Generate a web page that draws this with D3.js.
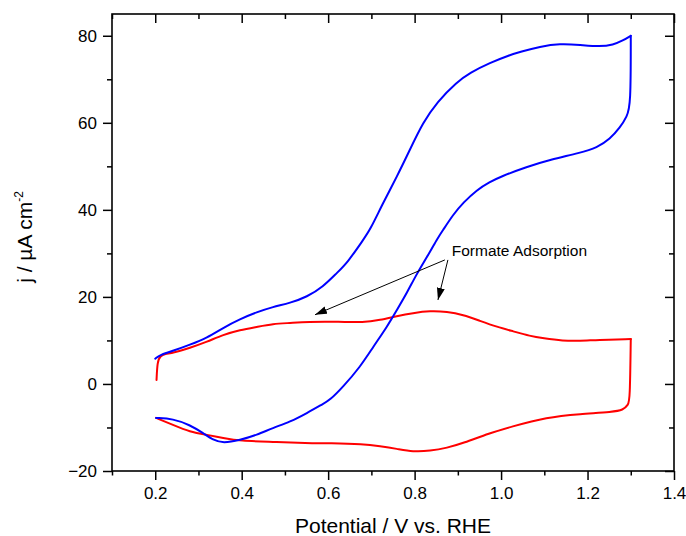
<!DOCTYPE html>
<html>
<head>
<meta charset="utf-8">
<script src="https://cdn.jsdelivr.net/npm/d3@7.9.0/dist/d3.min.js"></script>
<style>
  html, body { margin: 0; padding: 0; background: #fff; }
  svg { display: block; font-family: "Liberation Sans", Arial, sans-serif; }
</style>
</head>
<body>
<svg id="chart" width="686" height="536"></svg>
<script>
/* ---------- data (E / V vs RHE, j / uA cm-2) --------- */
const blueCV = [
  [0.200, 5.8], [0.211, 6.7], [0.241, 7.6], [0.280, 9.0], [0.320, 10.6], [0.357, 12.9],
  [0.396, 14.9], [0.435, 16.5], [0.472, 17.7], [0.512, 18.6], [0.551, 20.0], [0.588, 22.3],
  [0.620, 25.5], [0.644, 27.8], [0.681, 33.1], [0.697, 35.4], [0.727, 41.6], [0.759, 47.6],
  [0.789, 53.8], [0.819, 60.0], [0.852, 64.8], [0.898, 69.4], [0.928, 71.5], [0.974, 73.8],
  [1.021, 75.6], [1.044, 76.3], [1.090, 77.5], [1.136, 78.2], [1.183, 77.9], [1.229, 77.5],
  [1.259, 77.9], [1.282, 78.9], [1.300, 80.0],
  [1.300, 64.0], [1.291, 61.4], [1.275, 58.9], [1.252, 56.3], [1.222, 54.3], [1.183, 53.1],
  [1.113, 51.5], [1.060, 49.9], [0.998, 47.6], [0.974, 46.4], [0.944, 44.6], [0.912, 41.6],
  [0.889, 38.9], [0.866, 35.4], [0.852, 33.3], [0.829, 29.2], [0.806, 25.5], [0.782, 20.9],
  [0.759, 17.0], [0.736, 13.1], [0.704, 8.5], [0.674, 3.9], [0.634, -0.7], [0.604, -3.7],
  [0.588, -4.6], [0.551, -6.7], [0.512, -8.7], [0.472, -10.1], [0.435, -11.7], [0.396, -12.9],
  [0.357, -13.6], [0.334, -12.9], [0.311, -11.3], [0.280, -9.4], [0.241, -8.0], [0.202, -7.8]
];

const redCV = [
  [0.203, 0.9], [0.205, 5.1], [0.211, 6.4], [0.223, 6.9], [0.241, 7.1], [0.280, 8.3],
  [0.320, 9.7], [0.357, 11.3], [0.396, 12.4], [0.435, 13.1], [0.472, 13.8], [0.512, 14.0],
  [0.551, 14.3], [0.627, 14.3], [0.681, 14.1], [0.720, 14.7], [0.759, 15.6], [0.796, 16.3],
  [0.836, 16.8], [0.875, 16.6], [0.912, 15.9], [0.951, 14.5], [0.991, 13.1], [1.028, 12.1],
  [1.067, 11.0], [1.097, 10.5], [1.143, 9.9], [1.183, 9.9], [1.222, 10.1], [1.300, 10.3],
  [1.298, -3.7], [1.294, -4.8], [1.282, -6.0], [1.259, -6.4], [1.183, -6.9], [1.106, -7.6],
  [1.021, -9.9], [0.974, -11.3], [0.912, -13.6], [0.875, -14.7], [0.836, -15.4], [0.796, -15.6],
  [0.759, -14.9], [0.720, -14.3], [0.681, -13.8], [0.604, -13.6], [0.551, -13.6], [0.472, -13.3],
  [0.396, -13.1], [0.357, -12.4], [0.320, -11.7], [0.280, -11.0], [0.241, -9.4], [0.202, -7.8]
];

const xMajor = [0.2, 0.4, 0.6, 0.8, 1.0, 1.2, 1.4];
const xMinor = [0.1, 0.3, 0.5, 0.7, 0.9, 1.1, 1.3];
const yMajor = [-20, 0, 20, 40, 60, 80];
const yMinor = [-10, 10, 30, 50, 70];

const noteText = 'Formate Adsorption';
const noteAt = [0.886, 29.4];
// arrows: [from, to]
const noteArrows = [
  [[0.870, 28.5], [0.5696, 15.9]],
  [[0.877, 28.5], [0.854, 19.3]]
];

/* ---------- layout --------- */
const svg = d3.select('#chart');
const area = { l: 112, r: 674, t: 14, b: 471 };

const x = d3.scaleLinear().domain([0.1, 1.4]).range([area.l, area.r]);
const y = d3.scaleLinear().domain([-20, 85]).range([area.b, area.t]);

svg.append('defs').append('marker')
  .attr('id', 'arrow')
  .attr('viewBox', '0 0 12 8')
  .attr('refX', 12).attr('refY', 4)
  .attr('markerWidth', 12).attr('markerHeight', 8)
  .attr('markerUnits', 'userSpaceOnUse')
  .attr('orient', 'auto')
  .append('path').attr('d', 'M0,0 L12,4 L0,8 Z').attr('fill', '#000');

/* ---------- curves --------- */
const line = d3.line()
  .x(d => x(d[0]))
  .y(d => y(d[1]))
  .curve(d3.curveBasis);

// split each scan at its vertex potential so the turn-around stays sharp
function splitAtVertex(pts) {
  const i = d3.maxIndex(pts, d => d[0]);
  return [pts.slice(0, i + 1), pts.slice(i)];
}

function drawCV(pts, color) {
  svg.append('g').selectAll('path')
    .data(splitAtVertex(pts))
    .join('path')
    .attr('d', line).attr('fill', 'none')
    .attr('stroke', color).attr('stroke-width', 2)
    .attr('stroke-linejoin', 'round').attr('stroke-linecap', 'round');
}

drawCV(redCV, '#ff0000');
drawCV(blueCV, '#0000ff');

/* ---------- axes (frame with ticks on all sides) --------- */
const tickStyle = g => {
  g.select('.domain').remove();
  g.selectAll('line').attr('stroke', '#000').attr('stroke-width', 1.5);
  g.selectAll('text').attr('font-size', 17).attr('fill', '#000')
    .attr('font-family', '"Liberation Sans", Arial, sans-serif');
};

// bottom: outward, labelled
svg.append('g').attr('transform', `translate(0,${area.b})`)
  .call(d3.axisBottom(x).tickValues(xMajor).tickSize(9).tickPadding(7).tickFormat(d3.format('.1f')))
  .call(tickStyle);
svg.append('g').attr('transform', `translate(0,${area.b})`)
  .call(d3.axisBottom(x).tickValues(xMinor).tickSize(4.5).tickFormat(''))
  .call(tickStyle);

// top: inward
svg.append('g').attr('transform', `translate(0,${area.t})`)
  .call(d3.axisBottom(x).tickValues(xMajor).tickSize(9).tickFormat(''))
  .call(tickStyle);
svg.append('g').attr('transform', `translate(0,${area.t})`)
  .call(d3.axisBottom(x).tickValues(xMinor).tickSize(5).tickFormat(''))
  .call(tickStyle);

// left: outward, labelled
svg.append('g').attr('transform', `translate(${area.l},0)`)
  .call(d3.axisLeft(y).tickValues(yMajor).tickSize(9).tickPadding(6))
  .call(tickStyle);
svg.append('g').attr('transform', `translate(${area.l},0)`)
  .call(d3.axisLeft(y).tickValues(yMinor).tickSize(5).tickFormat(''))
  .call(tickStyle);

// right: inward
svg.append('g').attr('transform', `translate(${area.r},0)`)
  .call(d3.axisLeft(y).tickValues(yMajor).tickSize(9).tickFormat(''))
  .call(tickStyle);
svg.append('g').attr('transform', `translate(${area.r},0)`)
  .call(d3.axisLeft(y).tickValues(yMinor).tickSize(5).tickFormat(''))
  .call(tickStyle);

svg.append('rect')
  .attr('x', area.l).attr('y', area.t)
  .attr('width', area.r - area.l).attr('height', area.b - area.t)
  .attr('fill', 'none').attr('stroke', '#000').attr('stroke-width', 1.6);

/* ---------- annotation --------- */
svg.selectAll('line.note').data(noteArrows).join('line')
  .attr('class', 'note')
  .attr('x1', d => x(d[0][0])).attr('y1', d => y(d[0][1]))
  .attr('x2', d => x(d[1][0])).attr('y2', d => y(d[1][1]))
  .attr('stroke', '#000').attr('stroke-width', 1)
  .attr('marker-end', 'url(#arrow)');

svg.append('text')
  .attr('x', x(noteAt[0])).attr('y', y(noteAt[1]))
  .attr('font-size', 15.5).attr('fill', '#000')
  .text(noteText);

/* ---------- axis titles --------- */
svg.append('text')
  .attr('x', (area.l + area.r) / 2).attr('y', 533)
  .attr('text-anchor', 'middle').attr('font-size', 21).attr('fill', '#000')
  .text('Potential / V vs. RHE');

const yTitle = svg.append('text')
  .attr('transform', 'translate(32,237) rotate(-90)')
  .attr('text-anchor', 'middle').attr('font-size', 21).attr('fill', '#000');
yTitle.append('tspan').text('j / \u00b5A cm');
yTitle.append('tspan').attr('font-size', 12).attr('dy', -9).text('-2');
</script>
</body>
</html>
